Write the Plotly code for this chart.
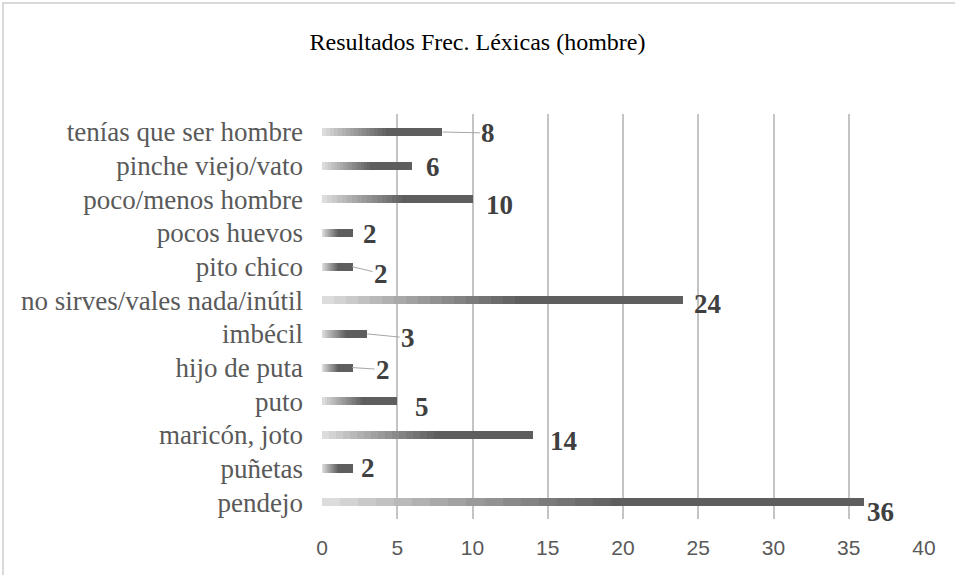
import plotly.graph_objects as go

# ---- data (top to bottom as in the chart) ----
categories = ["tenías que ser hombre", "pinche viejo/vato", "poco/menos hombre",
              "pocos huevos", "pito chico", "no sirves/vales nada/inútil",
              "imbécil", "hijo de puta", "puto", "maricón, joto", "puñetas", "pendejo"]
values = [8, 6, 10, 2, 2, 24, 3, 2, 5, 14, 2, 36]
x_ticks = [0, 5, 10, 15, 20, 25, 30, 35, 40]
title_text = "Resultados Frec. Léxicas (hombre)"

# ---- label placement (pixels from bar end; dy positive = down) ----
label_dx = [46, 21, 27, 18, 29, 24, 41, 31, 25, 31, 16, 17]
label_dy = [1, 1, 6, 1, 7, 4, 4, 2, 6, 6, -1, 10]
leader = [True, False, False, False, True, False, True, True, False, False, False, False]

# ---- style ----
W, H = 955, 575
ML, MR, MT, MB = 322, 31, 114, 56
N_SEG = 30
LIGHT = (226, 226, 226)
DARK = (94, 94, 94)
GRAD_END = 0.55


def seg_color(t):
    f = min(t / GRAD_END, 1.0)
    f = f ** 0.9
    c = [round(LIGHT[k] + (DARK[k] - LIGHT[k]) * f) for k in range(3)]
    return f"rgb({c[0]},{c[1]},{c[2]})"


fig = go.Figure()
for i in range(N_SEG):
    t = (i + 0.5) / N_SEG
    fig.add_trace(go.Bar(
        x=[v / N_SEG for v in values], y=categories, orientation="h",
        marker=dict(color=seg_color(t), line=dict(width=0)),
        showlegend=False, hoverinfo="skip"))

label_font = dict(family="Liberation Serif", size=27, color="#404040")
for cat, v, dx, dy, ld in zip(categories, values, label_dx, label_dy, leader):
    txt = f"<b>{v}</b>"
    if ld:
        fig.add_annotation(x=v, y=cat, text=txt, showarrow=True, arrowhead=0,
                           arrowwidth=1, arrowcolor="#a6a6a6", ax=dx, ay=dy,
                           axref="pixel", ayref="pixel", standoff=0,
                           font=label_font)
    else:
        fig.add_annotation(x=v, y=cat, text=txt, showarrow=False,
                           xshift=dx, yshift=-dy, font=label_font)

pw = W - ML - MR
ph = H - MT - MB
# outer chart border
fig.add_shape(type="rect", xref="paper", yref="paper",
              x0=(3 - ML) / pw, x1=(W + 10 - ML) / pw,
              y0=(H - MB - (H + 10)) / ph, y1=(H - MB - 3) / ph,
              line=dict(color="#d9d9d9", width=2), fillcolor="rgba(0,0,0,0)")

fig.update_layout(
    width=W, height=H,
    margin=dict(l=ML, r=MR, t=MT, b=MB),
    barmode="stack", bargap=0.76,
    plot_bgcolor="white", paper_bgcolor="white",
    title=dict(text=title_text, x=0.5, xref="container", xanchor="center",
               y=1 - 42 / H, yref="container", yanchor="middle",
               font=dict(family="Liberation Serif", size=24, color="#000000")),
    xaxis=dict(range=[0, 40], tickvals=x_ticks, showgrid=True,
               gridcolor="#c4c4c4", gridwidth=1.5, zeroline=True,
               zerolinecolor="white", zerolinewidth=2, showline=False,
               ticks="", ticklabelstandoff=14,
               tickfont=dict(family="Liberation Sans", size=21, color="#595959")),
    yaxis=dict(autorange="reversed", showgrid=False, showline=False, ticks="",
               ticklabelstandoff=18,
               tickfont=dict(family="Liberation Serif", size=27, color="#595959")),
)

fig.write_html("out.html", config={"displayModeBar": False},
               post_script="document.body.style.margin='0';")
